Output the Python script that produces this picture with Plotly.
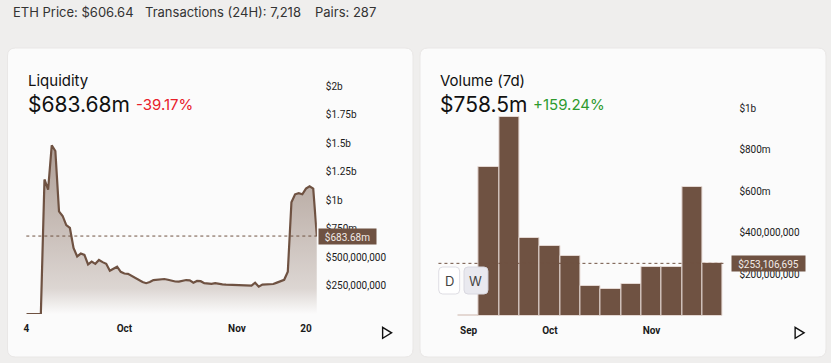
import plotly.graph_objects as go
import pandas as pd

W, H = 831, 363

# ---------------- data ----------------
liq_dates = pd.date_range("2020-09-04", "2020-11-23", freq="D")
liq_values_b = [
    0, 0, 0, 0, 0,
    1.18, 1.09, 1.48, 1.43, 0.90, 0.86, 0.78, 0.755, 0.58, 0.505,
    0.53, 0.518, 0.435, 0.46, 0.44, 0.474, 0.455, 0.44, 0.38, 0.40,
    0.415, 0.37, 0.355, 0.352, 0.335, 0.315, 0.295, 0.28, 0.27, 0.28,
    0.297, 0.30, 0.305, 0.307, 0.30, 0.29, 0.285, 0.284, 0.29, 0.298,
    0.295, 0.275, 0.29, 0.288, 0.27, 0.268, 0.265, 0.27, 0.263, 0.26,
    0.258, 0.257, 0.255, 0.256, 0.254, 0.252, 0.25, 0.249, 0.275, 0.24,
    0.258, 0.26, 0.262, 0.263, 0.275, 0.29, 0.30, 0.37, 0.98, 1.05,
    1.06, 1.05, 1.10, 1.12, 1.10, 0.68368,
]
liq_values = [v * 1e9 for v in liq_values_b]

vol_weeks = pd.date_range("2020-09-03", periods=13, freq="7D")
vol_values = [3e6, 717e6, 958e6, 373e6, 336e6, 288e6, 142e6, 131e6,
              152e6, 234e6, 234e6, 619e6, 253106695]

liq_yticks = [250e6, 500e6, 750e6, 1e9, 1.25e9, 1.5e9, 1.75e9, 2e9]
liq_yticktext = ["$250,000,000", "$500,000,000", "$750m", "$1b", "$1.25b",
                 "$1.5b", "$1.75b", "$2b"]
liq_xticks = ["2020-09-04", "2020-10-01", "2020-11-01", "2020-11-20"]
liq_xticktext = ["4", "Oct", "Nov", "20"]

vol_yticks = [200e6, 400e6, 600e6, 800e6, 1e9]
vol_yticktext = ["$200,000,000", "$400,000,000", "$600m", "$800m", "$1b"]
vol_xticks = [vol_weeks[0], vol_weeks[4], vol_weeks[9]]
vol_xticktext = ["Sep", "Oct", "Nov"]

header = [("ETH Price: $606.64", 12), ("Transactions (24H): 7,218", 145),
          ("Pairs: 287", 315)]

BROWN = "#6f5242"
DX = -4  # annotation text offset compensation


def px(x):
    return x / W


def py(y):
    return 1 - y / H


fig = go.Figure()

fig.add_trace(go.Scatter(
    x=liq_dates, y=liq_values, mode="lines",
    line=dict(color=BROWN, width=2.2),
    fill="tozeroy",
    fillgradient=dict(type="vertical", start=0, stop=1.5e9,
                      colorscale=[[0, "rgba(111,82,66,0)"],
                                  [0.15, "rgba(111,82,66,0.22)"],
                                  [0.5, "rgba(111,82,66,0.36)"],
                                  [1, "rgba(111,82,66,0.55)"]]),
    xaxis="x", yaxis="y", hoverinfo="skip", showlegend=False,
))

fig.add_trace(go.Bar(
    x=vol_weeks, y=vol_values,
    width=7 * 86400000,
    marker=dict(color=BROWN, line=dict(color="#e4d8d3", width=1)),
    xaxis="x2", yaxis="y2", hoverinfo="skip", showlegend=False,
))

tickfont = dict(family="Roboto", size=10, color="#1a1a1a")
xtickfont = dict(family="Roboto", size=10, color="#1a1a1a", weight="bold")

fig.update_layout(
    width=W, height=H,
    margin=dict(l=0, r=0, t=0, b=0),
    paper_bgcolor="#efeeed",
    plot_bgcolor="rgba(0,0,0,0)",
    bargap=0,
    xaxis=dict(domain=[px(23.4), px(315)],
               range=["2020-09-04", "2020-11-23"],
               tickvals=liq_xticks, ticktext=liq_xticktext,
               showgrid=False, zeroline=False, showline=False,
               tickfont=xtickfont, ticks="", ticklabelstandoff=7,
               anchor="y"),
    yaxis=dict(domain=[py(314), py(72)],
               range=[0, (314 - 72) / 114 * 1e9],
               tickvals=liq_yticks, ticktext=liq_yticktext,
               side="right", showgrid=False, zeroline=False,
               showline=False, tickfont=tickfont, ticks="",
               ticklabelstandoff=8, anchor="x"),
    xaxis2=dict(domain=[px(437), px(725)],
                range=["2020-08-23 14:24", "2020-11-30 11:00"],
                tickvals=vol_xticks, ticktext=vol_xticktext,
                showgrid=False, zeroline=False, showline=False,
                tickfont=xtickfont, ticks="", ticklabelstandoff=7,
                anchor="y2"),
    yaxis2=dict(domain=[py(316), py(92)],
                range=[0, (316 - 92) / 208 * 1e9],
                tickvals=vol_yticks, ticktext=vol_yticktext,
                side="right", showgrid=False, zeroline=False,
                showline=False, tickfont=tickfont, ticks="",
                ticklabelstandoff=13, anchor="x2"),
)


def rrect(x0, y0, x1, y1, r):
    X0, X1 = px(x0), px(x1)
    Y0, Y1 = py(y0), py(y1)
    rx, ry = r / W, r / H
    return (f"M {X0+rx},{Y0} L {X1-rx},{Y0} Q {X1},{Y0} {X1},{Y0-ry} "
            f"L {X1},{Y1+ry} Q {X1},{Y1} {X1-rx},{Y1} L {X0+rx},{Y1} "
            f"Q {X0},{Y1} {X0},{Y1+ry} L {X0},{Y0-ry} Q {X0},{Y0} {X0+rx},{Y0} Z")


shapes = []
for (a, b) in [(4.5, 411.5), (418.5, 826)]:
    shapes.append(dict(type="path", path=rrect(a, 48, b, 357, 8),
                       xref="paper", yref="paper", layer="below",
                       fillcolor="#fbfbfb", line=dict(color="#e9e7e6", width=1)))

# current value dotted lines
shapes.append(dict(type="line", xref="x domain", yref="y", x0=0, x1=1,
                   y0=liq_values[-1], y1=liq_values[-1],
                   line=dict(color=BROWN, width=1, dash="dot")))
shapes.append(dict(type="line", xref="x2 domain", yref="y2", x0=0, x1=1,
                   y0=vol_values[-1], y1=vol_values[-1],
                   line=dict(color=BROWN, width=1, dash="dot")))

# D / W buttons
shapes.append(dict(type="path", path=rrect(437.3, 267, 458.3, 294, 4),
                   xref="paper", yref="paper", layer="above",
                   fillcolor="#ffffff", line=dict(color="#dedde3", width=1)))
shapes.append(dict(type="path", path=rrect(462.7, 267, 486.7, 294, 4),
                   xref="paper", yref="paper", layer="above",
                   fillcolor="#e9e9ef", line=dict(color="#d9d8e0", width=1)))

# play icons
for x0 in (381, 795):
    shapes.append(dict(type="path",
                       path=f"M {px(x0)},{py(327.3)} L {px(x0+9)},{py(332.8)} L {px(x0)},{py(338.3)} Z",
                       xref="paper", yref="paper",
                       line=dict(color="#111111", width=1.4)))

fig.update_layout(shapes=shapes)

ann = []
for txt, x in header:
    ann.append(dict(text=txt, x=px(x + DX), y=py(12), xref="paper", yref="paper",
                    xanchor="left", yanchor="middle", showarrow=False,
                    font=dict(family="Inter", size=13, color="#333333")))


def title_block(x, title, value, change, ccolor, change_x):
    return [
        dict(text=title, x=px(x + DX), y=py(80), xref="paper", yref="paper",
             xanchor="left", yanchor="middle", showarrow=False,
             font=dict(family="Inter", size=15, color="#111111")),
        dict(text=value, x=px(x + DX), y=py(105), xref="paper", yref="paper",
             xanchor="left", yanchor="middle", showarrow=False,
             font=dict(family="Inter", size=21, color="#111111")),
        dict(text=change, x=px(change_x + DX), y=py(105), xref="paper", yref="paper",
             xanchor="left", yanchor="middle", showarrow=False,
             font=dict(family="Inter", size=15, color=ccolor)),
    ]


ann += title_block(27, "Liquidity", "$683.68m", "-39.17%", "#e8202a", 135)
ann += title_block(441, "Volume (7d)", "$758.5m", "+159.24%", "#2e9a2e", 534)

ann.append(dict(text="$683.68m", x=px(316.5), y=liq_values[-1],
                xref="paper", yref="y", xanchor="left", yanchor="middle",
                showarrow=False, bgcolor=BROWN, width=57, height=15,
                borderpad=0, font=dict(family="Roboto", size=10, color="#f2ebe7")))
ann.append(dict(text="$253,106,695", x=px(731), y=vol_values[-1],
                xref="paper", yref="y2", xanchor="left", yanchor="middle",
                showarrow=False, bgcolor=BROWN, width=73, height=15,
                borderpad=0, font=dict(family="Roboto", size=10, color="#f2ebe7")))

ann.append(dict(text="D", x=px(447.8), y=py(280.5), xref="paper", yref="paper",
                xanchor="center", yanchor="middle",
                showarrow=False, font=dict(family="Inter", size=13, color="#444")))
ann.append(dict(text="W", x=px(474.7), y=py(280.5), xref="paper", yref="paper",
                xanchor="center", yanchor="middle",
                showarrow=False, font=dict(family="Inter", size=13, color="#444")))

fig.update_layout(annotations=ann)

fig.write_html("out.html")
